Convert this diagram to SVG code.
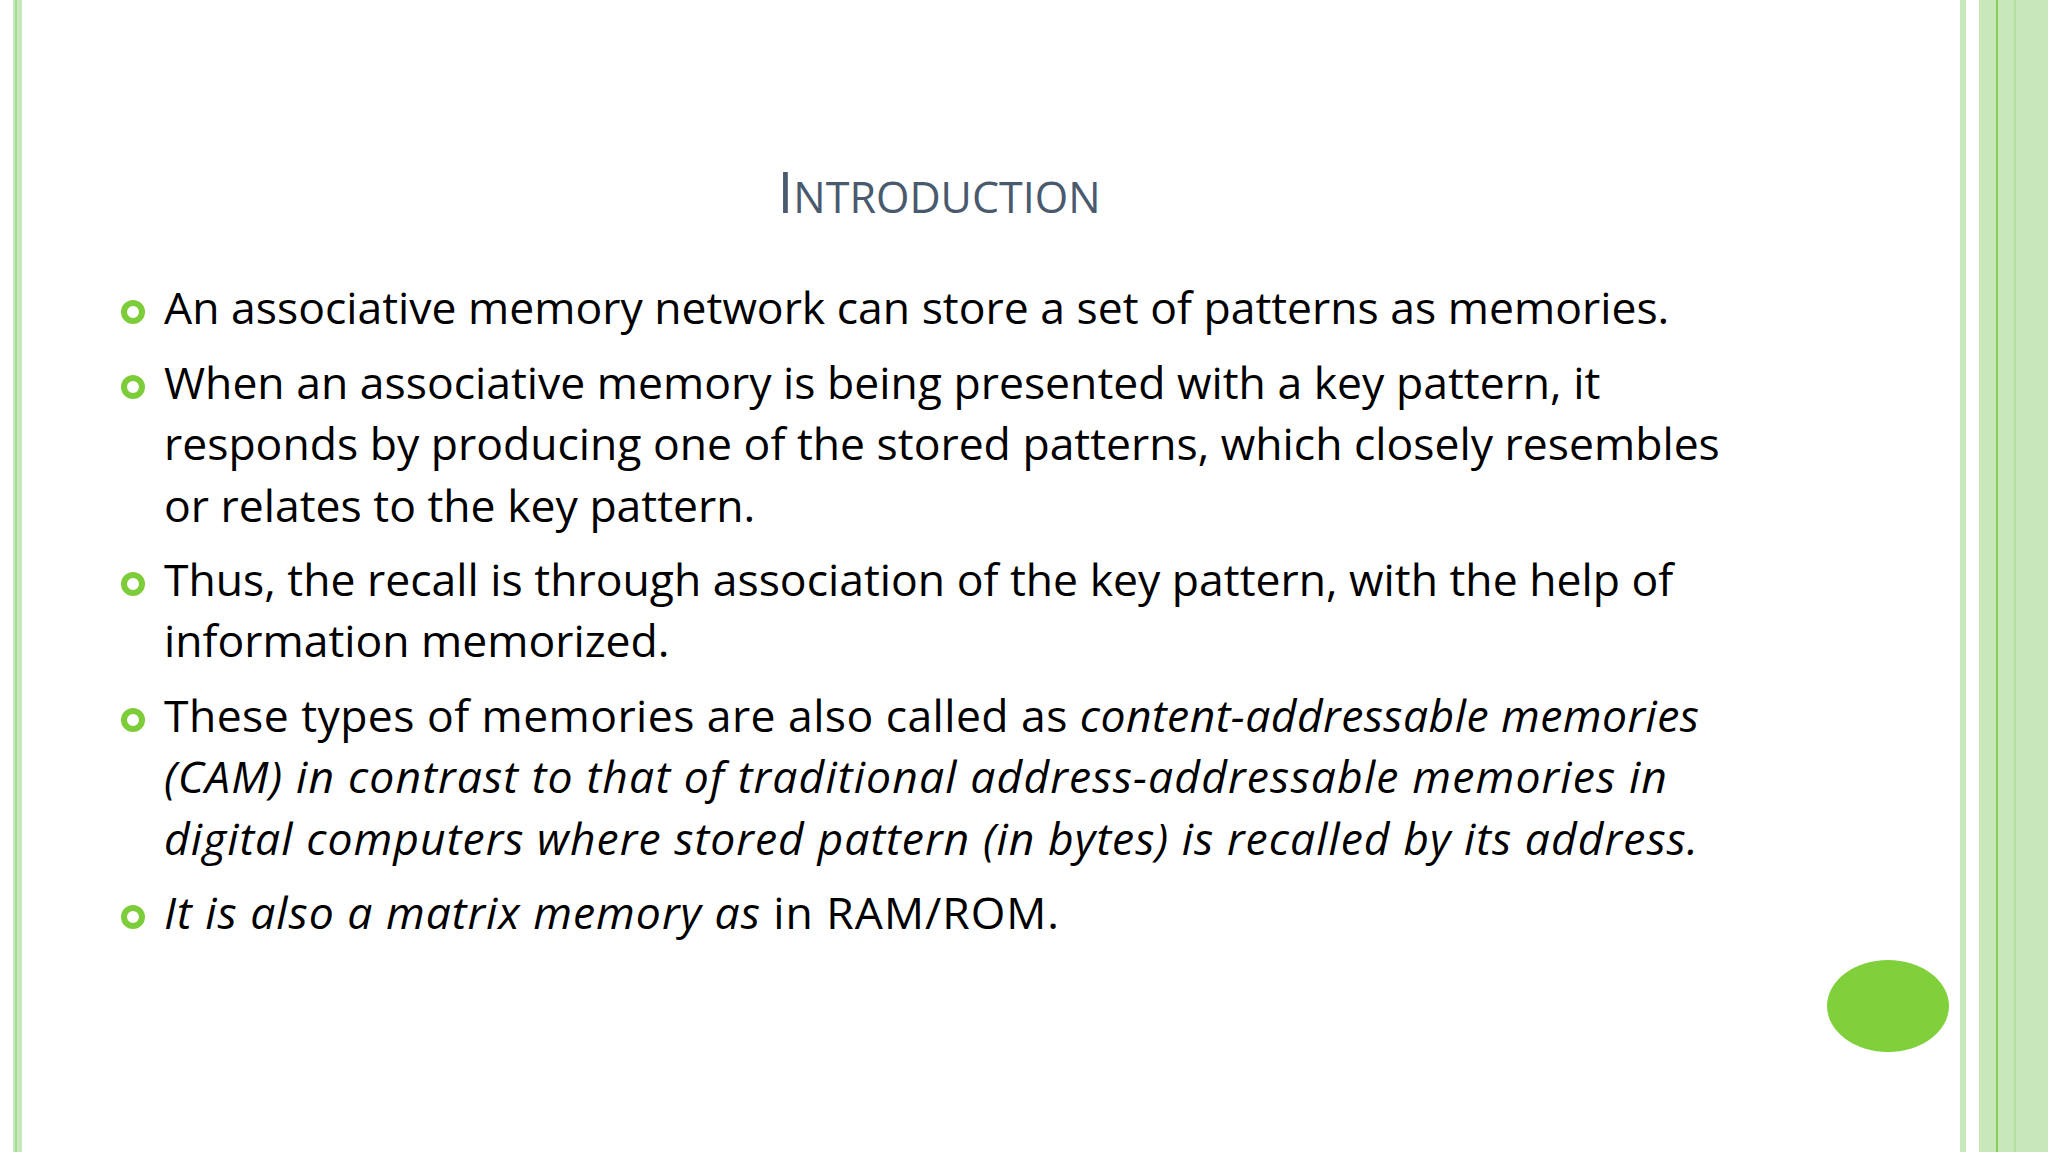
<svg xmlns="http://www.w3.org/2000/svg" width="2048" height="1152" viewBox="0 0 2048 1152">
<style>
.t{font-family:"Open Sans","Liberation Sans",sans-serif;font-size:44.5px;fill:#000}
.i{font-style:italic}
.b{fill:none;stroke:#7dcd3a;stroke-width:6}
</style>
<rect width="2048" height="1152" fill="#fff"/>
<g id="borders">
<rect x="13" y="0" width="9" height="1152" fill="#c6e8bd"/>
<rect x="15" y="0" width="2" height="1152" fill="#a7dc90"/>
<rect x="1960" y="0" width="6" height="1152" fill="#c6e8bd"/>
<rect x="1979" y="0" width="69" height="1152" fill="#c8e8bc"/>
<rect x="1996" y="0" width="2" height="1152" fill="#86d058"/>
<rect x="2014" y="0" width="2" height="1152" fill="#b3df9f"/>
</g>
<ellipse id="dot" cx="1888" cy="1006" rx="61" ry="46" fill="#80d03c"/>
<text id="title" x="939" y="213" text-anchor="middle" font-family="'Open Sans','Liberation Sans',sans-serif" fill="#4a5a6e" font-size="43"><tspan font-size="57">I</tspan>NTRODUCTION</text>
<g id="bullets">
<circle class="b" cx="133" cy="312" r="9"/>
<circle class="b" cx="133" cy="387" r="9"/>
<circle class="b" cx="133" cy="584" r="9"/>
<circle class="b" cx="133" cy="720" r="9"/>
<circle class="b" cx="133" cy="917" r="9"/>
</g>
<g id="text">
<text class="t" x="164" y="324">An associative memory network can store a set of patterns as memories.</text>
<text class="t" x="164" y="399">When an associative memory is being presented with a key pattern, it</text>
<text class="t" x="164" y="460">responds by producing one of the stored patterns, which closely resembles</text>
<text class="t" x="164" y="522">or relates to the key pattern.</text>
<text class="t" x="164" y="596">Thus, the recall is through association of the key pattern, with the help of</text>
<text class="t" x="164" y="657">information memorized.</text>
<text class="t" x="164" y="732" textLength="1535" lengthAdjust="spacing">These types of memories are also called as <tspan class="i">content-addressable memories</tspan></text>
<text class="t i" x="164" y="793" textLength="1503" lengthAdjust="spacing">(CAM) in contrast to that of traditional address-addressable memories in</text>
<text class="t i" x="164" y="855" textLength="1534" lengthAdjust="spacing">digital computers where stored pattern (in bytes) is recalled by its address.</text>
<text class="t" x="164" y="929" textLength="895" lengthAdjust="spacing"><tspan class="i">It is also a matrix memory as</tspan> in RAM/ROM.</text>
</g>
</svg>
